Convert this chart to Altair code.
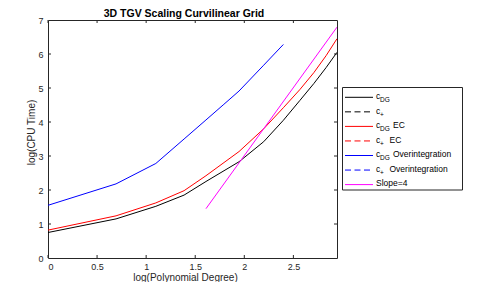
import numpy as np
import pandas as pd
import altair as alt

FONT = "Liberation Sans"
AX = "#262626"

# ---- data (log of polynomial degree vs log of CPU time) ----
deg_dg = [1, 2, 3, 4, 5, 7, 9, 11, 13, 15, 17, 19]
cdg = [0.75, 1.15, 1.52, 1.85, 2.25, 2.83, 3.42, 4.05, 4.63, 5.13, 5.60, 6.05]
cdg_ec = [0.82, 1.24, 1.62, 1.98, 2.42, 3.13, 3.80, 4.42, 4.95, 5.45, 5.95, 6.45]

deg_oi = [1, 2, 3, 4, 5, 6, 7, 9, 11]
cdg_oi = [1.55, 2.18, 2.78, 3.50, 4.06, 4.52, 4.91, 5.67, 6.28]

deg_slope = [5, 19]
slope4 = [1.45, 6.79]

series_names = ["c_DG", "c_DG EC", "c_DG Overintegration", "Slope=4"]
series_colors = ["#000000", "#FF0000", "#0000FF", "#FF00FF"]

x_ticks = [0, 0.5, 1, 1.5, 2, 2.5]
y_ticks = [0, 1, 2, 3, 4, 5, 6, 7]

rows = []
for name, degs, vals in [("c_DG", deg_dg, cdg), ("c_DG EC", deg_dg, cdg_ec),
                         ("c_DG Overintegration", deg_oi, cdg_oi),
                         ("Slope=4", deg_slope, slope4)]:
    for i, (d, v) in enumerate(zip(degs, vals)):
        rows.append({"series": name, "x": float(np.log(d)), "y": v, "order": i})
df = pd.DataFrame(rows)

W, H = 289, 238
XMAX = float(np.log(19))

xs = alt.Scale(domain=[0, XMAX], nice=False, zero=False)
ys = alt.Scale(domain=[0, 7], nice=False)

x_axis = alt.Axis(values=x_ticks, format="~g", ticks=False, domain=False, grid=False,
                  labelFont=FONT, labelFontSize=9, labelColor=AX, labelPadding=4,
                  labelOverlap=False,
                  title="log(Polynomial Degree)", titleFont=FONT, titleFontSize=10,
                  titleFontWeight="normal", titleColor=AX, titleX=137, titleY=19.5,
                  titleBaseline="middle", titleAlign="center")
y_axis = alt.Axis(values=y_ticks, format="d", ticks=False, domain=False, grid=False,
                  labelFont=FONT, labelFontSize=9, labelColor=AX, labelPadding=5,
                  labelOverlap=False,
                  title="log(CPU Time)", titleFont=FONT, titleFontSize=10,
                  titleFontWeight="normal", titleColor=AX, titleX=-17, titleY=112,
                  titleAngle=-90, titleBaseline="middle", titleAlign="center")

lines = alt.Chart(df).mark_line(strokeWidth=1, clip=True).encode(
    x=alt.X("x:Q", scale=xs, axis=x_axis),
    y=alt.Y("y:Q", scale=ys, axis=y_axis),
    color=alt.Color("series:N", scale=alt.Scale(domain=series_names, range=series_colors),
                    legend=None),
    detail="series:N",
    order="order:Q",
)

# inward tick marks on all four sides
xt = pd.DataFrame({"x": x_ticks})
yt = pd.DataFrame({"y": y_ticks[1:-1]})
tick_b = alt.Chart(xt).mark_rule(color=AX, strokeWidth=1).encode(
    x=alt.X("x:Q", scale=xs, axis=x_axis), y=alt.value(H), y2=alt.value(H - 3))
tick_t = alt.Chart(xt).mark_rule(color=AX, strokeWidth=1).encode(
    x=alt.X("x:Q", scale=xs, axis=x_axis), y=alt.value(0), y2=alt.value(3))
tick_l = alt.Chart(yt).mark_rule(color=AX, strokeWidth=1).encode(
    y=alt.Y("y:Q", scale=ys, axis=y_axis), x=alt.value(0), x2=alt.value(3))
tick_r = alt.Chart(yt).mark_rule(color=AX, strokeWidth=1).encode(
    y=alt.Y("y:Q", scale=ys, axis=y_axis), x=alt.value(W), x2=alt.value(W - 3))

one = pd.DataFrame({"a": [0]})

# title
title = alt.Chart(one).mark_text(
    font=FONT, fontSize=10.5, fontWeight="bold", color="#000000", align="center",
    baseline="middle", text="3D TGV Scaling Curvilinear Grid").encode(
    x=alt.value(136), y=alt.value(-6))

# ---- legend ----
leg_main = ["c", "c", "c", "c", "c", "c", "Slope=4"]
leg_sub = ["DG", "+", "DG", "+", "DG", "+", ""]
leg_suffix = ["", "", "EC", "EC", "Overintegration", "Overintegration", ""]
leg_color = ["#000000", "#000000", "#FF0000", "#FF0000", "#0000FF", "#0000FF", "#FF00FF"]
leg_dash = [False, True, False, True, False, True, False]

y0, dy = 77.3, 14.55

box = alt.Chart(one).mark_rect(
    fill="white", stroke=AX, strokeWidth=1).encode(
    x=alt.value(294.5), x2=alt.value(414.5), y=alt.value(67.5), y2=alt.value(170))

legend_layers = [box]
for i in range(7):
    ly = y0 + i * dy
    kw = {"strokeDash": [6, 3.5]} if leg_dash[i] else {}
    legend_layers.append(
        alt.Chart(one).mark_rule(strokeWidth=1, color=leg_color[i], **kw).encode(
            x=alt.value(297), x2=alt.value(325), y=alt.value(ly)))
    legend_layers.append(
        alt.Chart(one).mark_text(font=FONT, fontSize=8.5, align="left",
                                 baseline="alphabetic", color="#000000",
                                 text=leg_main[i]).encode(
            x=alt.value(328), y=alt.value(ly + 1.7)))
    if leg_sub[i]:
        legend_layers.append(
            alt.Chart(one).mark_text(font=FONT, fontSize=6.5, align="left",
                                     baseline="alphabetic", color="#000000",
                                     text=leg_sub[i]).encode(
                x=alt.value(332), y=alt.value(ly + 4.8)))
    if leg_suffix[i]:
        sx = 345 if leg_sub[i] == "DG" else 341.5
        legend_layers.append(
            alt.Chart(one).mark_text(font=FONT, fontSize=8.5, align="left",
                                     baseline="alphabetic", color="#000000",
                                     text=leg_suffix[i]).encode(
                x=alt.value(sx), y=alt.value(ly + 1.7)))

chart = alt.layer(
    lines, tick_b, tick_t, tick_l, tick_r, title, *legend_layers
).properties(
    width=W, height=H,
    autosize=alt.AutoSizeParams(type="none"),
    padding={"left": 40, "top": 12, "right": 153, "bottom": 24},
    background="white",
).configure_view(stroke=AX, strokeWidth=1)

chart.save("out.html", embed_options={"renderer": "svg", "actions": False})
